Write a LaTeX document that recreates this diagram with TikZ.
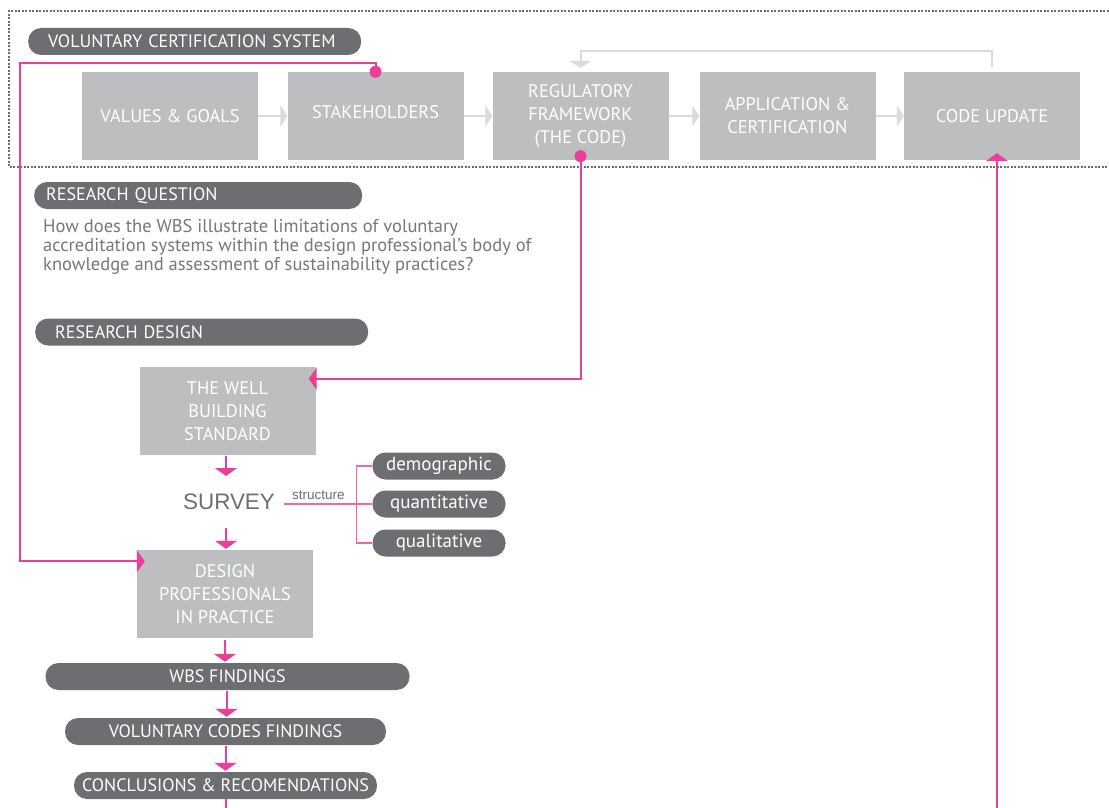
\documentclass[tikz,border=0pt]{standalone}
\usepackage{fontspec}
\setmainfont{PT Sans}
\newfontfamily\arialf{Liberation Sans}
\usetikzlibrary{arrows.meta}
\definecolor{boxgray}{RGB}{188,190,192}
\definecolor{pillgray}{RGB}{109,110,113}
\definecolor{txtgray}{RGB}{119,120,123}
\definecolor{lgray}{RGB}{218,219,221}
\definecolor{pinkc}{RGB}{237,62,151}
\definecolor{dotgray}{RGB}{110,110,112}
\begin{document}
\begin{tikzpicture}[x=1pt,y=-1pt,
  box/.style={fill=boxgray, text=white, align=center, inner sep=0pt,
    minimum width=176pt, minimum height=88pt, font=\fontsize{18.3}{23}\selectfont},
  pill/.style={fill=pillgray, text=white, rounded corners=13pt, minimum height=27pt,
    inner sep=0pt, font=\fontsize{18}{20}\selectfont},
  spill/.style={pill, minimum width=133pt, font=\fontsize{19}{20}\selectfont},
  garrow/.style={draw=lgray, line width=2.5pt, -{Triangle[length=7pt,width=21pt]}},
  fbarrow/.style={draw=lgray, line width=2pt, -{Triangle[length=7pt,width=22pt]}},
  pkline/.style={draw=pinkc, line width=2pt},
  pkarrow/.style={pkline, -{Triangle[length=8pt,width=22pt]}},
  brline/.style={draw=pinkc!80, line width=1.3pt},
  frame/.style={draw=dotgray, line width=1.6pt, dash pattern=on 1.6pt off 1.9pt},
  dotc/.style={fill=pinkc, draw=none},
]
\useasboundingbox (0,0) rectangle (1109,808);
\fill[white] (0,0) rectangle (1109,808);

% dotted frame
\draw[frame] (1112,11) -- (9,11) -- (9,167) -- (1112,167);

% header pill
\node[pill, anchor=west, text width=313pt, align=left, inner xsep=10pt] (vcs) at (28,41.5) {\hspace{10pt}VOLUNTARY CERTIFICATION SYSTEM};

% top row boxes
\node[box] (vg) at (170,116) {VALUES \& GOALS};
\node[box] (sh) at (375.5,116) {\smash{\raisebox{-2pt}{STAKEHOLDERS}}};
\node[box] (rf) at (580.5,116) {REGULATORY\\FRAMEWORK\\(THE CODE)};
\node[box] (ac) at (787.5,116) {APPLICATION \&\\CERTIFICATION};
\node[box] (cu) at (992,116) {CODE UPDATE};

\draw[garrow] (vg.east) -- (sh.west);
\draw[garrow] (sh.east) -- (rf.west);
\draw[garrow] (rf.east) -- (ac.west);
\draw[garrow] (ac.east) -- (cu.west);

\coordinate (fbl) at (580.5,51);
\draw[fbarrow] ([yshift=5pt]cu.north) |- (fbl) -- ([yshift=4pt]rf.north);

% research question
\node[pill, anchor=west, text width=304pt, align=left, inner xsep=12pt] (rq) at (34,195.5) {RESEARCH QUESTION};
\node[anchor=north west, inner sep=0pt, text=txtgray, align=left,
  font=\fontsize{18.5}{19}\selectfont] (qt) at (43,219)
  {How does the WBS illustrate limitations of voluntary\\
   accreditation systems within the design professional's body of\\
   knowledge and assessment of sustainability practices?};

% research design
\node[pill, anchor=west, text width=293pt, align=left, inner xsep=20pt] (rd) at (35,332) {RESEARCH DESIGN};

% well box
\node[box] (wb) at (227.5,411) {THE WELL\\BUILDING\\STANDARD};

% survey
\node[inner sep=0pt, text height=16pt, text depth=0pt, text=pillgray,
  font=\arialf\fontsize{22.4}{24}\selectfont] (sv) at (229,501) {SURVEY};
\node[inner sep=0pt, text=pillgray, font=\arialf\fontsize{13.5}{14}\selectfont,
  anchor=base west] (st) at (292,499) {structure};

\node[spill] (dg) at (439,466) {demographic};
\node[spill] (qn) at (439,504) {quantitative};
\node[spill] (ql) at (439,543) {qualitative};

\draw[brline] ([xshift=9pt]sv.east |- qn.west) -- (qn.west);
\draw[brline] (dg.west) -- ++(-16,0) |- (ql.west);

% design professionals
\node[box] (dp) at (225,594) {DESIGN\\PROFESSIONALS\\IN PRACTICE};

% findings
\node[pill, minimum width=364pt] (wf) at (227.5,676.5) {WBS FINDINGS};
\node[pill, minimum width=321pt] (vf) at (225.5,731.5) {VOLUNTARY CODES FINDINGS};
\node[pill, minimum width=303pt] (cr) at (225.5,785.5) {CONCLUSIONS \& RECOMENDATIONS};

% pink vertical chain
\draw[pkarrow, shorten <=1pt] ([xshift=-1.5pt]wb.south) -- ([xshift=-1.5pt]wb.south |- 0,476);
\draw[pkarrow] ([xshift=-3pt]sv.south |- 0,528) -- ([xshift=-3pt,yshift=1pt]sv.south |- dp.north);
\draw[pkarrow, shorten <=2pt] (dp.south) -- ([yshift=1pt]dp.south |- wf.north);
\draw[pkarrow, shorten <=1pt] ([xshift=-1pt]wf.south) -- ([xshift=-1pt,yshift=1pt]wf.south |- vf.north);
\draw[pkarrow, shorten <=1pt] (vf.south) -- ([yshift=1pt]cr.north);
\coordinate (crb) at (225.5,812);
\draw[pkline] (cr.south) -- (crb);

% pink loop from stakeholders to design professionals
\coordinate (lp1) at (20,63);
\draw[pkarrow, shorten >=-8pt] (sh.north) |- (lp1) |- ([yshift=-11.5pt]dp.north west);
\fill[dotc] (sh.north) circle (6pt);

% pink from regulatory framework to well
\draw[pkarrow, shorten >=-7pt] ([yshift=4pt]rf.south) |- ([yshift=-12pt]wb.north east);
\fill[dotc] ([yshift=4pt]rf.south) circle (6pt);

% pink from bottom to code update
\coordinate (cub) at (997,812);
\draw[pkarrow, shorten >=-7pt] (cub) -- (cub |- cu.south);
\end{tikzpicture}
\end{document}
